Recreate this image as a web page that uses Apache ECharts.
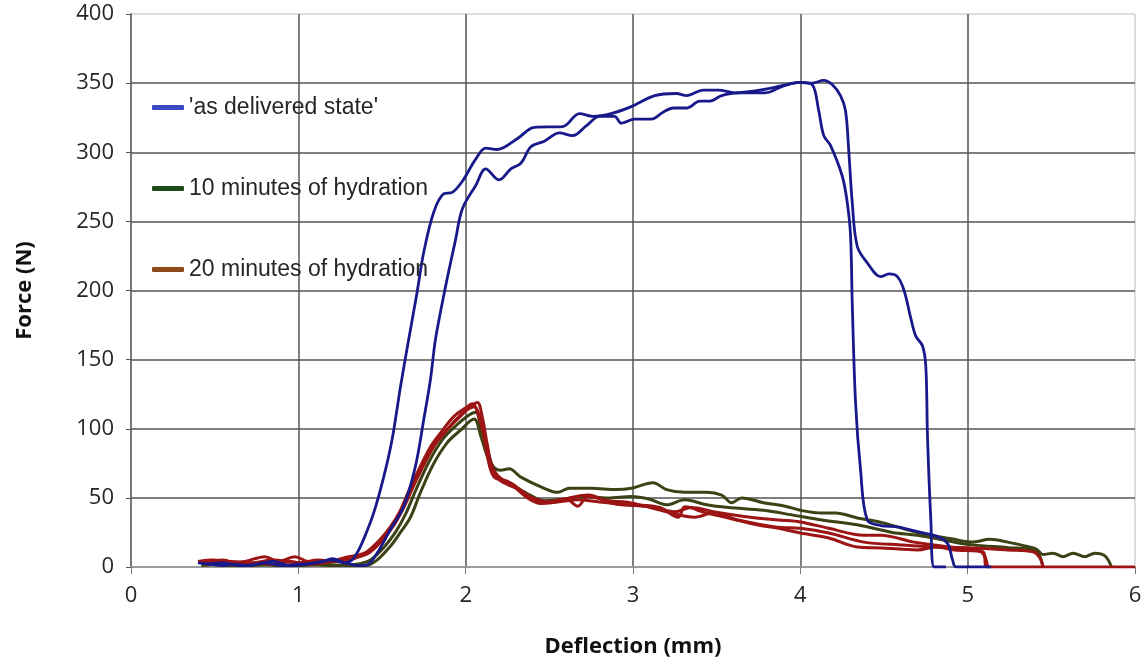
<!DOCTYPE html>
<html>
<head>
<meta charset="utf-8">
<script src="https://cdn.jsdelivr.net/npm/echarts@6/dist/echarts.min.js"></script>
<style>
  html, body { margin: 0; padding: 0; background: #fff; }
  #chart { width: 1145px; height: 664px; }
</style>
</head>
<body>
<div id="chart"></div>
<script>
// legend names
const seriesNames = ["'as delivered state'", '10 minutes of hydration', '20 minutes of hydration'];

// x ticks (deflection, mm) and y ticks (force, N)
const xTicks = [0, 1, 2, 3, 4, 5, 6];
const yTicks = [0, 50, 100, 150, 200, 250, 300, 350, 400];

// 'as delivered state' - two samples, [deflection, force]
const deliveredA = [
    [0.40, 3], [0.48, 2], [0.55, 1], [0.62, 2], [0.70, 1], [0.80, 3], [0.90, 1], [1.00, 2], [1.10, 3], [1.20, 5], [1.27, 3],
    [1.31, 4], [1.35, 10], [1.39, 20], [1.45, 39], [1.51, 65], [1.56, 92], [1.61, 130], [1.66, 165], [1.71, 199], [1.75, 228],
    [1.81, 257], [1.87, 270], [1.92, 271], [1.98, 279], [2.06, 295], [2.12, 303], [2.19, 302], [2.31, 310], [2.41, 318],
    [2.58, 318.6], [2.68, 328], [2.76, 326], [2.87, 328], [2.99, 333], [3.13, 341], [3.26, 342.5], [3.32, 341], [3.42, 345],
    [3.51, 345], [3.61, 343], [3.71, 344], [3.81, 346], [3.92, 349], [4.00, 350.5], [4.07, 349], [4.11, 330], [4.14, 312],
    [4.18, 305], [4.25, 283], [4.28, 264], [4.30, 240], [4.31, 192], [4.33, 119], [4.36, 70], [4.40, 34], [4.48, 30],
    [4.58, 29], [4.72, 25], [4.82, 22], [4.88, 17], [4.91, 5], [4.93, 0], [5.14, 0]
];
const deliveredB = [
    [0.45, 2], [0.55, 3], [0.65, 1], [0.75, 2], [0.85, 4], [0.95, 1], [1.05, 2], [1.15, 4], [1.20, 6], [1.28, 3], [1.36, 1],
    [1.41, 1.5], [1.47, 10], [1.55, 27], [1.63, 44], [1.70, 73], [1.75, 107], [1.79, 136], [1.82, 165], [1.88, 203],
    [1.94, 237], [1.98, 259], [2.06, 276], [2.12, 288], [2.20, 280], [2.27, 288], [2.33, 292], [2.39, 304], [2.47, 308],
    [2.56, 314], [2.64, 312], [2.72, 319], [2.80, 326], [2.89, 326], [2.93, 321], [3.01, 324], [3.11, 324], [3.18, 329],
    [3.24, 332], [3.32, 332], [3.40, 337], [3.46, 337], [3.53, 341], [3.63, 343], [3.79, 343], [3.90, 348], [4.00, 350.5],
    [4.07, 350], [4.14, 352], [4.19, 349], [4.24, 341], [4.27, 330], [4.29, 300], [4.31, 264], [4.34, 232], [4.40, 220],
    [4.48, 210], [4.53, 212], [4.58, 210], [4.62, 200], [4.66, 180], [4.69, 167], [4.73, 160], [4.75, 145], [4.76, 94],
    [4.78, 34], [4.80, 0], [4.87, 0]
];

// 10 minutes of hydration - two samples
const hydr10A = [
    [0.42, 1], [0.55, 2], [0.70, 1], [0.85, 2], [1.00, 1], [1.15, 2], [1.30, 1], [1.40, 1],
    [1.47, 5], [1.55, 15], [1.61, 25], [1.67, 36], [1.73, 54], [1.81, 75], [1.89, 90], [1.97, 99], [2.05, 107],
    [2.09, 95], [2.13, 80], [2.17, 72], [2.21, 70], [2.26, 71], [2.33, 65], [2.45, 58], [2.55, 54], [2.62, 57], [2.75, 57],
    [2.90, 56], [2.99, 57], [3.12, 61], [3.20, 56], [3.31, 54], [3.44, 54], [3.53, 52], [3.59, 46.5], [3.65, 50],
    [3.78, 46.5], [3.91, 44], [4.00, 41], [4.13, 39], [4.21, 39], [4.34, 35.5], [4.49, 32], [4.70, 25], [4.92, 20],
    [5.03, 18], [5.13, 20], [5.24, 18], [5.35, 15], [5.41, 13], [5.45, 9], [5.51, 10], [5.57, 7.5], [5.63, 10],
    [5.70, 7.5], [5.76, 10], [5.82, 8], [5.86, 0]
];
const hydr10B = [
    [0.45, 2], [0.60, 1], [0.75, 2], [0.90, 1], [1.05, 2], [1.20, 1], [1.35, 2],
    [1.43, 5], [1.51, 14], [1.58, 25], [1.64, 38], [1.70, 55], [1.78, 76], [1.86, 92], [1.94, 102], [2.02, 110], [2.06, 112],
    [2.10, 95], [2.14, 80], [2.19, 66], [2.27, 60], [2.37, 53], [2.47, 48], [2.58, 49], [2.70, 51], [2.85, 50], [2.99, 51],
    [3.10, 49], [3.20, 45], [3.31, 48.6], [3.44, 45], [3.57, 43], [3.78, 41], [3.95, 37.7], [4.13, 34], [4.34, 30.5],
    [4.55, 25], [4.70, 23], [4.92, 18], [5.03, 16], [5.24, 14], [5.39, 12.3], [5.43, 8], [5.45, 0]
];

// 20 minutes of hydration - three samples
const hydr20A = [
    [0.40, 4], [0.49, 5], [0.59, 3], [0.68, 4], [0.80, 7.5], [0.88, 4], [0.98, 7.5], [1.06, 4], [1.18, 4], [1.30, 7.5], [1.36, 8.7],
    [1.41, 11], [1.49, 20], [1.55, 29], [1.61, 41], [1.67, 58], [1.73, 73], [1.79, 87], [1.85, 97], [1.93, 109], [2.01, 116], [2.04, 118],
    [2.08, 110], [2.11, 97], [2.13, 80], [2.17, 65], [2.25, 62], [2.37, 50], [2.45, 46], [2.55, 47], [2.67, 48.6], [2.80, 47],
    [2.99, 45], [3.16, 43], [3.27, 36], [3.31, 43.5], [3.44, 39], [3.57, 35.5], [3.74, 30.5], [3.87, 28], [4.00, 24.6],
    [4.17, 21], [4.34, 14.5], [4.49, 13.8], [4.70, 12.3], [4.81, 14.5], [4.92, 12.3], [5.09, 11], [5.12, 0], [6.00, 0]
];
const hydr20B = [
    [0.42, 3], [0.55, 5], [0.65, 2], [0.75, 3], [0.85, 2], [0.95, 4], [1.05, 2], [1.15, 3], [1.25, 5], [1.33, 6],
    [1.43, 12], [1.51, 22], [1.57, 31], [1.63, 44], [1.69, 60], [1.75, 75], [1.81, 88], [1.88, 98], [1.96, 108], [2.03, 116], [2.07, 119],
    [2.10, 108], [2.13, 88], [2.16, 72], [2.21, 64], [2.28, 60], [2.38, 51], [2.47, 47], [2.60, 49], [2.67, 44], [2.73, 51],
    [2.85, 48], [2.99, 46.4], [3.20, 40], [3.37, 36], [3.48, 39], [3.63, 34], [3.85, 29], [4.00, 28], [4.17, 24.6],
    [4.38, 18], [4.60, 16], [4.81, 14.5], [5.03, 13.8], [5.24, 12.3], [5.39, 11], [5.43, 7], [5.45, 0]
];
const hydr20C = [
    [0.45, 2], [0.60, 4], [0.72, 3], [0.85, 5], [1.00, 3], [1.12, 5], [1.22, 4], [1.32, 6],
    [1.42, 10], [1.50, 19], [1.57, 30], [1.63, 43], [1.69, 59], [1.75, 74], [1.82, 89], [1.90, 101], [1.97, 110], [2.01, 114], [2.05, 116],
    [2.09, 104], [2.12, 88], [2.15, 72], [2.20, 63], [2.30, 57], [2.40, 50], [2.50, 47], [2.62, 50], [2.73, 52], [2.88, 46],
    [3.10, 43.5], [3.25, 40], [3.35, 43], [3.48, 40], [3.70, 36], [3.87, 34], [4.00, 32.6], [4.17, 28], [4.38, 23],
    [4.48, 23], [4.68, 18], [4.88, 14.7], [5.08, 11], [5.12, 0]
];

const chart = echarts.init(document.getElementById('chart'));

// curve colours in the plot vs. the (brighter) legend swatches
const lineColors = ['#18198a', '#3d4214', '#9c1414'];
const legendColors = ['#3a48c4', '#1d4a1d', '#8e4a18'];

function curve(name, data, color, width) {
    return {
        name: name,
        type: 'line',
        data: data,
        showSymbol: false,
        smooth: 0.35,
        lineStyle: { color: color, width: width },
        itemStyle: { color: color },
        emphasis: { disabled: true }
    };
}

const labelFont = { fontFamily: 'Open Sans', fontSize: 22, color: '#262626' };
const nameFont = { fontFamily: 'Open Sans', fontWeight: 'bold', fontSize: 22, color: '#111' };

chart.setOption({
    animation: false,
    backgroundColor: '#fff',
    grid: {
        left: 131, right: 10, top: 14, bottom: 97,
        show: true, borderColor: '#bbb', borderWidth: 1
    },
    legend: {
        orient: 'vertical',
        left: 147,
        top: 90,
        itemGap: 56,
        itemWidth: 32,
        itemHeight: 5,
        icon: 'roundRect',
        textStyle: { fontFamily: 'Liberation Sans', fontSize: 23, color: '#262626', lineHeight: 25 },
        data: seriesNames.map((n, i) => ({ name: n, itemStyle: { color: legendColors[i] } }))
    },
    xAxis: {
        type: 'value',
        min: xTicks[0], max: xTicks[xTicks.length - 1], interval: 1,
        name: 'Deflection (mm)',
        nameLocation: 'middle',
        nameGap: 69,
        nameTextStyle: nameFont,
        axisLine: { show: true, lineStyle: { color: '#9a9a9a', width: 2 } },
        axisTick: { show: true, length: 7, lineStyle: { color: '#777' } },
        axisLabel: { ...labelFont, margin: 18 },
        splitLine: { show: true, showMinLine: false, showMaxLine: false, lineStyle: { color: '#555', width: 1.5 } }
    },
    yAxis: {
        type: 'value',
        min: yTicks[0], max: yTicks[yTicks.length - 1], interval: 50,
        name: 'Force (N)',
        nameLocation: 'middle',
        nameGap: 95,
        nameRotate: 90,
        nameTextStyle: nameFont,
        axisLine: { show: true, lineStyle: { color: '#555', width: 1.5 } },
        axisTick: { show: true, length: 5, lineStyle: { color: '#555' } },
        axisLabel: { ...labelFont, margin: 17 },
        splitLine: { show: true, showMinLine: false, showMaxLine: false, lineStyle: { color: '#555', width: 1.5 } }
    },
    series: [
        curve(seriesNames[1], hydr10A, lineColors[1], 3),
        curve(seriesNames[1], hydr10B, lineColors[1], 3),
        curve(seriesNames[2], hydr20A, lineColors[2], 3),
        curve(seriesNames[2], hydr20B, lineColors[2], 3),
        curve(seriesNames[2], hydr20C, lineColors[2], 3),
        curve(seriesNames[0], deliveredA, lineColors[0], 2.8),
        curve(seriesNames[0], deliveredB, lineColors[0], 2.8)
    ]
});
</script>
</body>
</html>
